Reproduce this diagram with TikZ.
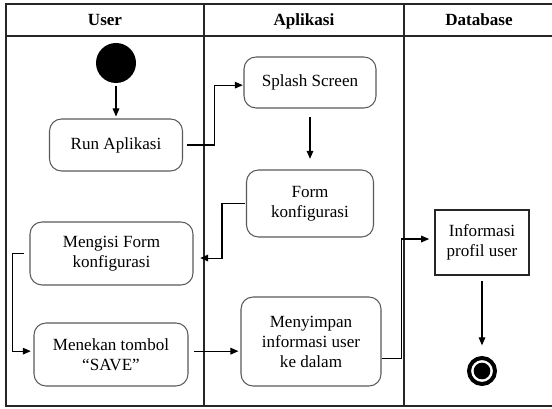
\documentclass[tikz,border=0pt]{standalone}
\usepackage{fontspec}
\setmainfont{Liberation Serif}
\usetikzlibrary{arrows.meta,calc}

\begin{document}
\begin{tikzpicture}[x=0.75pt,y=-0.75pt,
  lane/.style={draw=black!85,line width=1pt},
  act/.style={draw=black!65,line width=0.8pt,rounded corners=9pt,align=center,
    font=\fontsize{12.8}{15}\selectfont,inner sep=2pt},
  obj/.style={draw=black!85,line width=0.8pt,align=center,
    font=\fontsize{12.8}{15}\selectfont,inner sep=2pt},
  head/.style={font=\fontsize{12.8}{15}\selectfont\bfseries,text height=9pt,text depth=0pt},
  flow/.style={draw=black,line width=0.8pt,-{Triangle[length=6pt,width=5pt]}},
  startdot/.style={circle,fill=black,minimum size=30pt,inner sep=0pt},
  endring/.style={circle,draw=black,line width=3pt,fill=white,minimum size=19.5pt,inner sep=0pt},
  enddot/.style={circle,fill=black,minimum size=12.5pt,inner sep=0pt}]
  \useasboundingbox (0,0) rectangle (552,409);
  \draw[lane] (552,4) -- (6,4) -- (6,406) -- (552,406);
  \draw[lane] (6,36) -- (552,36);
  \draw[lane] (204,4) -- (204,406);
  \draw[lane] (404,4) -- (404,406);
  \path (105,20) node[head] (hUser) {User}
  (304,20) node[head] (hApp) {Aplikasi}
  (479,20) node[head] (hDb) {Database};
  \path (116,63) node[startdot] (start) {}
  (116,145) node[act,minimum width=99.75pt,minimum height=39pt] (run) {Run Aplikasi}
  (310,82.5) node[act,minimum width=99pt,minimum height=38.25pt] (splash) {Splash Screen}
  (310,203.5) node[act,minimum width=95.25pt,minimum height=50.25pt] (form) {Form\\konfigurasi}
  (111.5,253.5) node[act,minimum width=122.25pt,minimum height=47.25pt] (isi) {Mengisi Form\\konfigurasi}
  (111,354.5) node[act,minimum width=115.5pt,minimum height=47.25pt] (tekan) {Menekan tombol\\``SAVE''}
  (311,341.5) node[act,minimum width=105pt,minimum height=66.75pt] (simpan) {Menyimpan\\informasi user\\ke dalam}
  (482,242.5) node[obj,minimum width=70.5pt,minimum height=48.75pt] (info) {Informasi\\profil user}
  (482,371) node[endring] (end) {};
  \node[enddot] (endc) at (end) {};
  \draw[flow,shorten <=2pt,shorten >=1.5pt] (start) -- (run);
  \draw[flow,shorten <=3pt,shorten >=0.5pt] (run.east) -- ++(31,0) |- ([yshift=-2pt]splash.west);
  \draw[flow,shorten <=6pt,shorten >=8pt] (splash) -- (form);
  \draw[flow,shorten <=1pt,shorten >=5pt] (form.west) -- ++(-24,0) |- ([yshift=-3.4pt]isi.east);
  \draw[flow,shorten <=4pt,shorten >=2pt] (isi.west) -- ++(-17,0) |- ([yshift=2.5pt]tekan.west);
  \draw[flow,shorten <=4pt,shorten >=1.5pt] ([yshift=2.5pt]tekan.east) -- ([yshift=2.5pt]tekan.east -| simpan.west);
  \draw[flow,shorten >=4pt] ([yshift=-13pt]simpan.east) -- ++(20,0) |- ([yshift=2.6pt]info.west);
  \draw[flow,shorten <=4pt,shorten >=8pt] (info) -- (end);
\end{tikzpicture}
\end{document}
